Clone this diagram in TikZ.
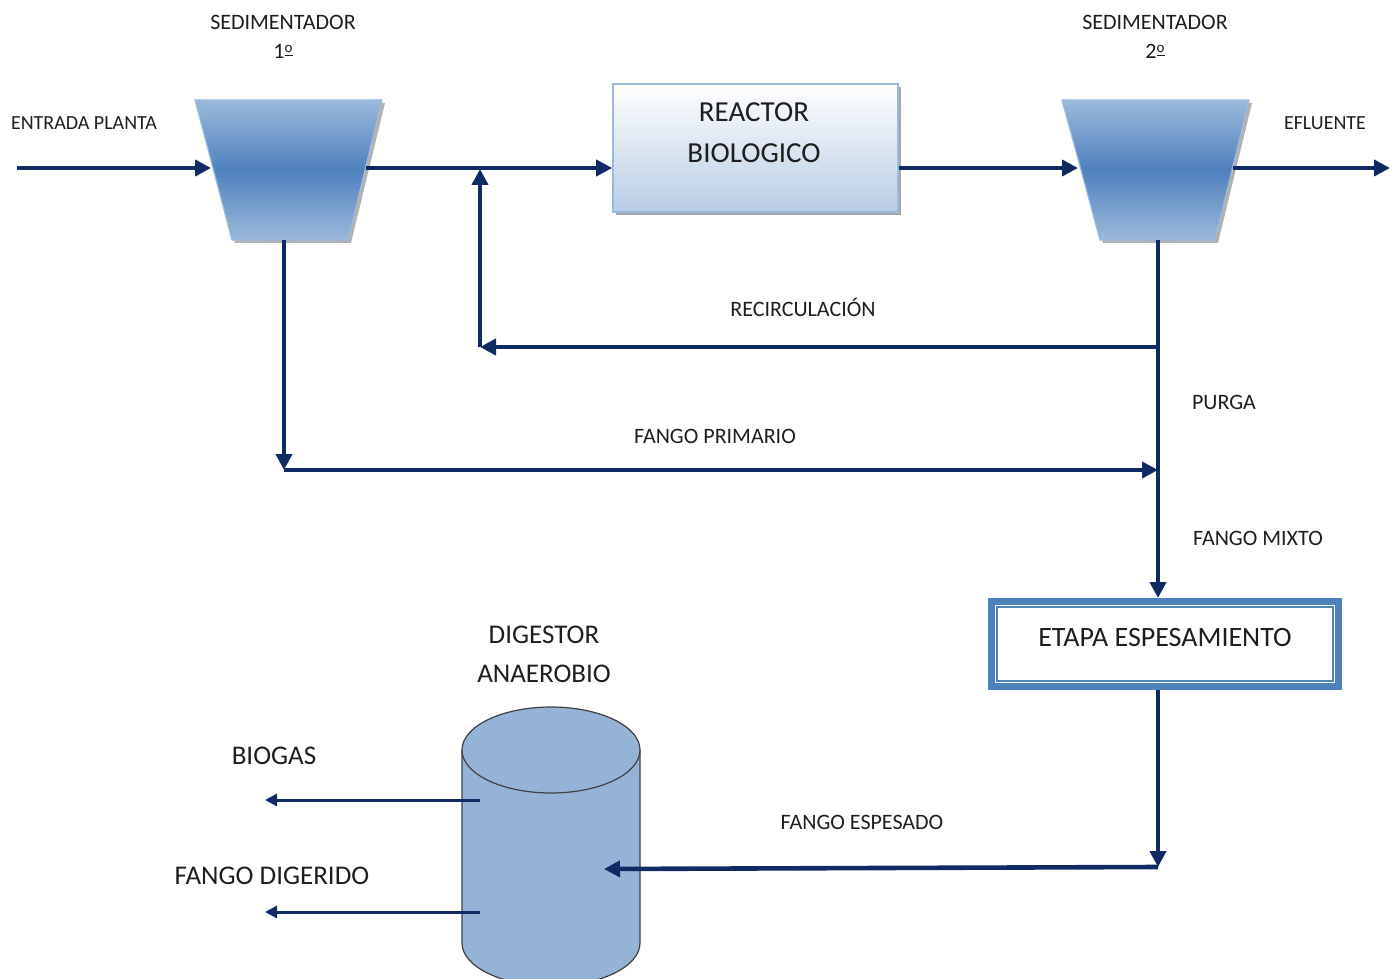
\documentclass[tikz,border=0pt]{standalone}
\usepackage{fontspec}
\setmainfont{Carlito}
\usetikzlibrary{arrows.meta,shadows}
\definecolor{navy}{RGB}{16,42,100}
\definecolor{sedlight}{RGB}{155,185,220}
\definecolor{seddark}{RGB}{79,129,189}
\definecolor{reacbot}{RGB}{184,204,228}
\definecolor{cylfill}{RGB}{149,179,215}
\definecolor{txt}{RGB}{30,30,30}
\newcommand{\ordo}{\raisebox{0.55ex}{\fontsize{7.5}{8}\selectfont\underline{o}}}
\begin{document}
\begin{tikzpicture}[x=0.5pt,y=-0.5pt,
  flow/.style={draw=navy, line width=2.3pt, -{Triangle[length=8pt,width=8pt]}},
  thinflow/.style={draw=navy, line width=1.5pt, -{Triangle[length=6pt,width=6pt]}},
  lbl/.style={text=txt, inner sep=0pt, font=\fontsize{11}{13}\selectfont},
  smalllbl/.style={text=txt, inner sep=0pt, font=\fontsize{10}{12}\selectfont},
  biglbl/.style={text=txt, inner sep=0pt, align=center, font=\fontsize{13.5}{19.5}\selectfont},
  sedshade/.style={top color=sedlight, bottom color=sedlight, middle color=seddark},
  sedshadow/.style={fill=black, opacity=0.3}
]
\useasboundingbox (0,0) rectangle (1399,979);

% ---- Sedimentador 1
\coordinate (s1tl) at (195,100); \coordinate (s1tr) at (382,100);
\coordinate (s1br) at (348,240); \coordinate (s1bl) at (232,240);
\fill[sedshadow] ([shift={(3,3)}]s1tl) -- ([shift={(3,3)}]s1tr) -- ([shift={(3,3)}]s1br) -- ([shift={(3,3)}]s1bl) -- cycle;
\shade[sedshade] (s1tl) -- (s1tr) -- (s1br) -- (s1bl) -- cycle;
\draw[sedlight, line width=0.6pt] (s1tl) -- (s1tr) -- (s1br) -- (s1bl) -- cycle;
\coordinate (s1in) at (211,168); \coordinate (s1out) at (366,168);
\coordinate (s1b) at (284,240);

% ---- Sedimentador 2
\coordinate (s2tl) at (1062,100); \coordinate (s2tr) at (1249,100);
\coordinate (s2br) at (1215,240); \coordinate (s2bl) at (1100,240);
\fill[sedshadow] ([shift={(3,3)}]s2tl) -- ([shift={(3,3)}]s2tr) -- ([shift={(3,3)}]s2br) -- ([shift={(3,3)}]s2bl) -- cycle;
\shade[sedshade] (s2tl) -- (s2tr) -- (s2br) -- (s2bl) -- cycle;
\draw[sedlight, line width=0.6pt] (s2tl) -- (s2tr) -- (s2br) -- (s2bl) -- cycle;
\coordinate (s2in) at (1078,168); \coordinate (s2out) at (1233,168);
\coordinate (s2b) at (1158,240);

% ---- Titles
\node[lbl, align=center, font=\fontsize{11}{14.5}\selectfont] (t1) at (283,37) {SEDIMENTADOR\\1\ordo};
\node[lbl, align=center, font=\fontsize{11}{14.5}\selectfont] (t2) at (1155,37) {SEDIMENTADOR\\2\ordo};
\node[smalllbl] (entr) at (84,123) {ENTRADA PLANTA};
\node[smalllbl] (eflu) at (1325,123) {EFLUENTE};

% ---- Reactor
\node[draw=sedlight, line width=0.8pt, top color=white, bottom color=reacbot,
      minimum width=142.5pt, minimum height=64pt, inner sep=0pt,
      drop shadow={shadow xshift=1.5pt, shadow yshift=-1.5pt, opacity=0.35, fill=black}] (reac) at (755.5,148) {};
\node[text=txt, inner sep=0pt, align=center, font=\fontsize{14.5}{20.5}\selectfont] (reactxt) at (754,133) {REACTOR\\BIOLOGICO};

% ---- Etapa espesamiento
\node[draw=seddark, line width=3.5pt, fill=white, minimum width=173.5pt, minimum height=42.5pt, inner sep=0pt] (etapa) at (1165,644) {};
\draw[seddark, line width=0.8pt] ([shift={(9,9)}]etapa.north west) rectangle ([shift={(-9,-9)}]etapa.south east);
\node[text=txt, inner sep=0pt, font=\fontsize{14}{16}\selectfont] (etapatxt) at (1165,638) {ETAPA ESPESAMIENTO};

% ---- Digestor (cylinder)
\coordinate (dgc) at (551,750);
\filldraw[fill=cylfill, draw=black!75, line width=0.6pt]
  (462,750) -- (462,943) .. controls (462,966.7) and (501.8,986) .. (551,986)
  .. controls (600.2,986) and (640,966.7) .. (640,943) -- (640,750);
\filldraw[fill=cylfill, draw=black!75, line width=0.6pt] (dgc) ellipse [x radius=89, y radius=43];
\coordinate (dgin) at (604,869);
\coordinate (bgout) at (480,800); \coordinate (bgend) at (265,800);
\coordinate (fdout) at (480,912); \coordinate (fdend) at (265,912);
\node[biglbl] (dgt) at (544,654) {DIGESTOR\\ANAEROBIO};
\node[biglbl] (bgt) at (274,756) {BIOGAS};
\node[biglbl] (fdt) at (272,876) {FANGO DIGERIDO};

% ---- Connectors
\coordinate (inpt) at (17,168);
\coordinate (efend) at (1390,168);
\draw[flow] (inpt) -- (s1in);
\draw[flow] (s1out) -- (s1out -| reac.west);
\draw[flow] (s2in -| reac.east) -- (s2in);
\draw[flow] (s2out) -- (efend);

\coordinate (rcb) at (1158,347);
\coordinate (rcl) at (480,347);
\coordinate (rcu) at (480,169);
\draw[flow] (s2b) -- (etapa.north -| s2b);
\draw[flow] (rcb) -- (rcl);
\draw[flow] (rcl) -- (rcu);

\coordinate (fpd) at (284,470);
\coordinate (fpr) at (1158,470);
\draw[flow] (s1b) -- (fpd);
\draw[flow] (fpd) -- (fpr);

\coordinate (fe) at (1158,867);
\draw[flow] (etapa.south -| s2b) -- (fe);
\draw[flow] (fe) -- (dgin);

\draw[thinflow] (bgout) -- (bgend);
\draw[thinflow] (fdout) -- (fdend);

% ---- Connector labels
\node[lbl] (lrec) at (803,307) {RECIRCULACIÓN};
\node[lbl] (lpur) at (1224,402) {PURGA};
\node[lbl] (lfp) at (715,436) {FANGO PRIMARIO};
\node[lbl] (lfm) at (1258,538) {FANGO MIXTO};
\node[lbl] (lfe) at (862,822) {FANGO ESPESADO};
\end{tikzpicture}
\end{document}
